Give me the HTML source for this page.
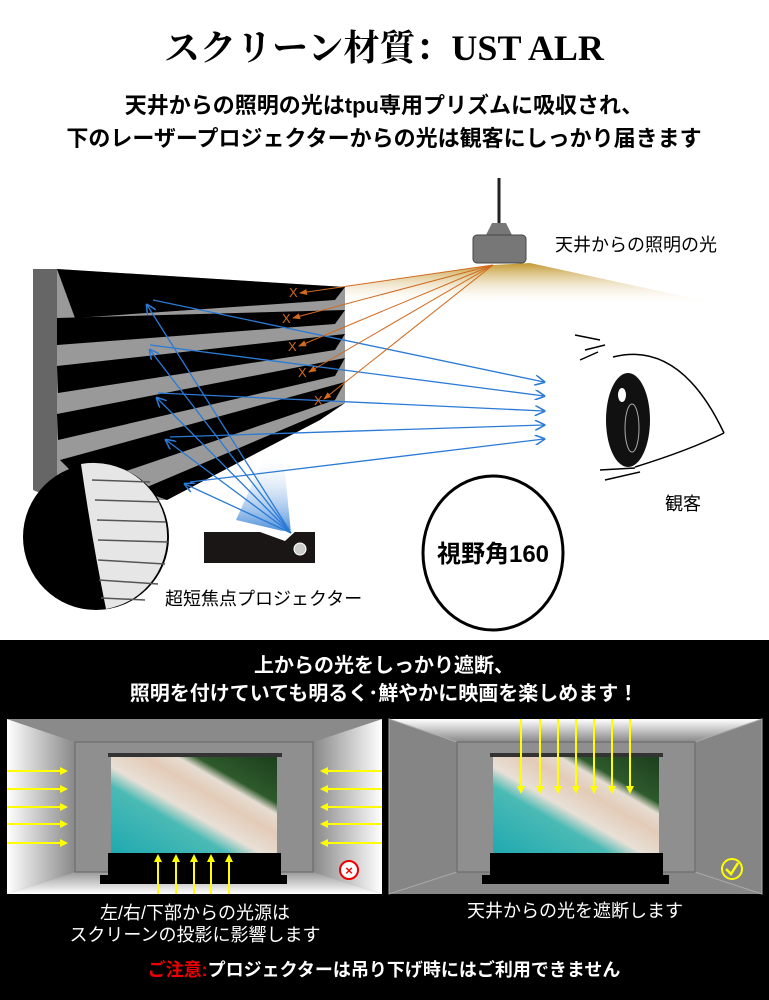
<!DOCTYPE html>
<html><head><meta charset="utf-8"><style>
body{margin:0;width:769px;height:1000px;overflow:hidden;background:#fff;font-family:"Liberation Sans","Noto Sans CJK JP",sans-serif}
svg{display:block}
</style></head><body>
<svg width="769" height="1000" viewBox="0 0 769 1000" xmlns="http://www.w3.org/2000/svg">
<defs>
<linearGradient id="gold" x1="0" y1="0" x2="0" y2="1"><stop offset="0" stop-color="#b8860b"/><stop offset="1" stop-color="#fff" stop-opacity="0"/></linearGradient>
<linearGradient id="beam" x1="0" y1="1" x2="0" y2="0"><stop offset="0" stop-color="#1a6fd0"/><stop offset="1" stop-color="#fff" stop-opacity="0"/></linearGradient>
<linearGradient id="sea" x1="0" y1="1" x2="1" y2="0"><stop offset="0" stop-color="#1fa9b0"/><stop offset="0.35" stop-color="#4bbab5"/><stop offset="0.45" stop-color="#e8e0d6"/><stop offset="0.6" stop-color="#e3cbb8"/><stop offset="0.7" stop-color="#e6ddd2"/><stop offset="0.76" stop-color="#2e5a2c"/><stop offset="1" stop-color="#1c3e1d"/></linearGradient>
<linearGradient id="wallL" x1="0" y1="0" x2="1" y2="0"><stop offset="0" stop-color="#fff"/><stop offset="1" stop-color="#888"/></linearGradient>
<linearGradient id="wallR" x1="1" y1="0" x2="0" y2="0"><stop offset="0" stop-color="#fff"/><stop offset="1" stop-color="#888"/></linearGradient>
<linearGradient id="ceil" x1="0" y1="0" x2="0" y2="1"><stop offset="0" stop-color="#fff"/><stop offset="1" stop-color="#888"/></linearGradient>
<linearGradient id="floor" x1="0" y1="1" x2="0" y2="0"><stop offset="0" stop-color="#fff"/><stop offset="1" stop-color="#999"/></linearGradient>
<marker id="ab" markerWidth="8" markerHeight="8" refX="7" refY="4" orient="auto"><path d="M0,0 L8,4 L0,8" fill="none" stroke="#2a7ad6" stroke-width="1.2"/></marker>
<marker id="ao" markerWidth="8" markerHeight="8" refX="7" refY="4" orient="auto"><path d="M0,1 L8,4 L0,7z" fill="#d2691e"/></marker>
<marker id="ay" markerWidth="4" markerHeight="4" refX="3" refY="2" orient="auto"><path d="M0,0 L4,2 L0,4z" fill="#ffff00"/></marker>
</defs>

<text x="384" y="60" text-anchor="middle" font-family="'Liberation Serif','Noto Serif CJK SC',serif" font-weight="bold" font-size="36">スクリーン材質：UST ALR</text>
<text x="384" y="113" text-anchor="middle" font-weight="bold" font-size="22">天井からの照明の光はtpu専用プリズムに吸収され、</text>
<text x="384" y="146" text-anchor="middle" font-weight="bold" font-size="22">下のレーザープロジェクターからの光は観客にしっかり届きます</text>

<!-- lamp -->
<line x1="499" y1="178" x2="499" y2="225" stroke="#222" stroke-width="3"/>
<path d="M492,223 L506,223 L512,235 L486,235z" fill="#777"/>
<rect x="473" y="235" width="53" height="28" rx="4" fill="#777" stroke="#444"/>
<path d="M493,265 L345,287 L345,300 L724,305 L530,263z" fill="url(#gold)" opacity="0.85"/>
<text x="555" y="251" font-size="18">天井からの照明の光</text>

<!-- screen -->
<path d="M33,269 L57,269 L57,500 L33,490z" fill="#666"/>
<path d="M57,269 L345,287 L345,403 L167,500 L57,500z" fill="#999"/>
<g fill="#000">
<path d="M57,269 L345,287 L335,300 L75,318z"/>
<path d="M57,318 L345,310 L335,324 L57,345z"/>
<path d="M57,366 L345,334 L335,350 L58,393z"/>
<path d="M57,414 L345,358 L335,376 L58,440z"/>
<path d="M60,460 L345,382 L335,400 L85,485z"/>
<path d="M140,490 L345,403 L320,420 L167,500z"/>
</g>

<!-- projector -->
<path d="M291,533 L236,520 L266,453 L283,453z" fill="url(#beam)" opacity="0.8"/>
<rect x="204" y="532" width="111" height="31" fill="#1a1616"/>
<path d="M260,532 L285,541 L297,530z" fill="#fff"/>
<circle cx="300" cy="549" r="6" fill="#ccc" stroke="#fff"/>
<text x="165" y="605" font-size="18">超短焦点プロジェクター</text>

<!-- blue arrows -->
<g stroke="#2a7ad6" stroke-width="1.3" fill="none" marker-end="url(#ab)">
<line x1="291" y1="533" x2="147" y2="305"/>
<line x1="291" y1="533" x2="150" y2="350"/>
<line x1="291" y1="533" x2="157" y2="398"/>
<line x1="291" y1="533" x2="166" y2="440"/>
<line x1="291" y1="533" x2="185" y2="484"/>
<line x1="153" y1="300" x2="544" y2="382"/>
<line x1="150" y1="345" x2="544" y2="396"/>
<line x1="158" y1="393" x2="544" y2="411"/>
<line x1="170" y1="437" x2="544" y2="425"/>
<line x1="190" y1="482" x2="544" y2="439"/>
</g>
<!-- orange -->
<g stroke="#d2691e" stroke-width="1" marker-end="url(#ao)">
<line x1="493" y1="265" x2="300" y2="293"/>
<line x1="493" y1="265" x2="293" y2="318"/>
<line x1="493" y1="265" x2="299" y2="346"/>
<line x1="493" y1="265" x2="309" y2="372"/>
<line x1="493" y1="265" x2="324" y2="399"/>
</g>
<g fill="#d2691e" font-size="13"><text x="289" y="297">X</text><text x="282" y="323">X</text><text x="288" y="351">X</text><text x="298" y="377">X</text><text x="314" y="405">X</text></g>

<!-- magnifier -->
<circle cx="96" cy="537" r="73" fill="#000"/>
<path d="M81,464 A73,73 0 0 1 106,609 Q92,540 81,464z" fill="#e6e6e6"/>
<g stroke="#555" stroke-width="1.5"><line x1="92" y1="480" x2="150" y2="482"/><line x1="95" y1="500" x2="160" y2="502"/><line x1="97" y1="520" x2="166" y2="522"/><line x1="98" y1="540" x2="168" y2="542"/><line x1="98" y1="560" x2="165" y2="564"/><line x1="99" y1="580" x2="158" y2="584"/><line x1="101" y1="598" x2="145" y2="600"/></g>

<!-- eye -->
<g stroke="#000" fill="none" stroke-width="1.5">
<path d="M613,357 Q680,340 724,433"/>
<path d="M724,433 Q690,450 635,467"/>
<path d="M600,340 L575,335 M605,345 L585,350 M598,352 L580,360 M640,472 L605,480 M635,468 L600,470"/>
</g>
<ellipse cx="628" cy="420" rx="22" ry="47" fill="#111"/>
<ellipse cx="632" cy="428" rx="7" ry="24" fill="none" stroke="#aaa"/>
<ellipse cx="622" cy="395" rx="4" ry="7" fill="#fff"/>
<text x="665" y="510" font-size="18">観客</text>

<ellipse cx="493" cy="553" rx="70" ry="77" fill="#fff" stroke="#000" stroke-width="3"/>
<text x="493" y="562" text-anchor="middle" font-weight="bold" font-size="24">視野角160</text>

<!-- black band -->
<rect x="0" y="640" width="769" height="360" fill="#000"/>
<text x="384" y="672" text-anchor="middle" fill="#fff" font-weight="bold" font-size="20">上からの光をしっかり遮断、</text>
<text x="384" y="700" text-anchor="middle" fill="#fff" font-weight="bold" font-size="20">照明を付けていても明るく･鮮やかに映画を楽しめます！</text>

<!-- left room -->
<rect x="7" y="719" width="375" height="175" fill="#888"/>
<path d="M7,719 L75,742 L75,872 L7,894z" fill="url(#wallL)"/>
<path d="M382,719 L313,742 L313,872 L382,894z" fill="url(#wallR)"/>
<path d="M7,719 L382,719 L313,742 L75,742z" fill="#8a8a8a"/>
<path d="M7,894 L382,894 L313,872 L75,872z" fill="url(#floor)"/>
<rect x="75" y="742" width="238" height="130" fill="#8f8f8f" stroke="#666"/>
<rect x="108" y="753" width="174" height="4" fill="#333"/>
<rect x="111" y="757" width="166" height="96" fill="url(#sea)"/>
<rect x="108" y="853" width="173" height="22" fill="#000"/>
<rect x="100" y="875" width="187" height="9" fill="#000"/>
<g stroke="#ff0" stroke-width="2" marker-end="url(#ay)">
<line x1="7" y1="771" x2="66" y2="771"/><line x1="7" y1="789" x2="66" y2="789"/><line x1="7" y1="807" x2="66" y2="807"/><line x1="7" y1="824" x2="66" y2="824"/><line x1="7" y1="843" x2="66" y2="843"/>
<line x1="382" y1="771" x2="322" y2="771"/><line x1="382" y1="789" x2="322" y2="789"/><line x1="382" y1="807" x2="322" y2="807"/><line x1="382" y1="824" x2="322" y2="824"/><line x1="382" y1="843" x2="322" y2="843"/>
<line x1="158" y1="894" x2="158" y2="856"/><line x1="176" y1="894" x2="176" y2="856"/><line x1="194" y1="894" x2="194" y2="856"/><line x1="211" y1="894" x2="211" y2="856"/><line x1="229" y1="894" x2="229" y2="856"/>
</g>
<circle cx="349" cy="870" r="9" fill="#fff" stroke="#e00" stroke-width="2"/>
<text x="349" y="875" text-anchor="middle" fill="#e00" font-size="13" font-weight="bold">×</text>

<!-- right room -->
<rect x="389" y="719" width="373" height="175" fill="#888"/>
<path d="M389,719 L762,719 L695,742 L457,742z" fill="url(#ceil)"/>
<path d="M389,719 L457,742 L457,872 L389,894z" fill="#858585" stroke="#aaa"/>
<path d="M762,719 L695,742 L695,872 L762,894z" fill="#858585" stroke="#aaa"/>
<rect x="457" y="742" width="238" height="130" fill="#8f8f8f" stroke="#666"/>
<rect x="490" y="753" width="173" height="4" fill="#333"/>
<rect x="493" y="757" width="166" height="96" fill="url(#sea)"/>
<rect x="490" y="853" width="173" height="22" fill="#000"/>
<rect x="482" y="875" width="187" height="9" fill="#000"/>
<g stroke="#ff0" stroke-width="2" marker-end="url(#ay)">
<line x1="521" y1="719" x2="521" y2="792"/><line x1="540" y1="719" x2="540" y2="792"/><line x1="558" y1="719" x2="558" y2="792"/><line x1="576" y1="719" x2="576" y2="792"/><line x1="594" y1="719" x2="594" y2="792"/><line x1="612" y1="719" x2="612" y2="792"/><line x1="630" y1="719" x2="630" y2="792"/>
</g>
<circle cx="732" cy="869" r="10" fill="none" stroke="#ff0" stroke-width="2"/>
<path d="M726,869 L731,874 L738,863" fill="none" stroke="#ff0" stroke-width="2.5"/>

<text x="195" y="919" text-anchor="middle" fill="#fff" font-size="18">左/右/下部からの光源は</text>
<text x="195" y="941" text-anchor="middle" fill="#fff" font-size="18">スクリーンの投影に影響します</text>
<text x="575" y="917" text-anchor="middle" fill="#fff" font-size="18">天井からの光を遮断します</text>
<text x="384" y="976" text-anchor="middle" font-weight="bold" font-size="18" fill="#fff"><tspan fill="#e00">ご注意:</tspan>プロジェクターは吊り下げ時にはご利用できません</text>
</svg>
</body></html>
